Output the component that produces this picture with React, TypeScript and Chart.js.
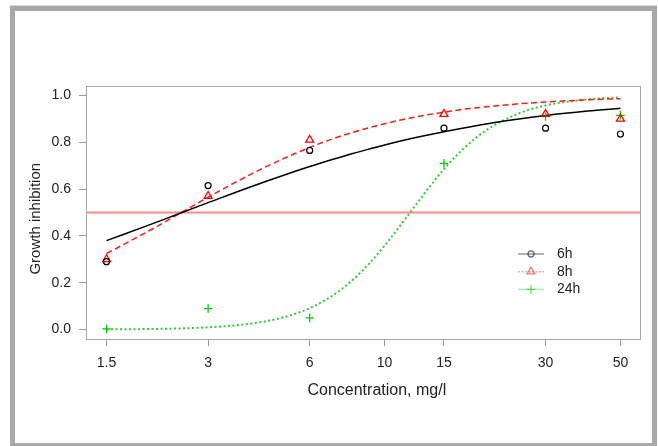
import { useEffect, useRef } from 'react';
import { Chart, registerables } from 'chart.js';

Chart.register(...registerables);

// ---- data ----
const concentrations = [1.5, 3, 6, 15, 30, 50];
const seriesLabels = ['6h', '8h', '24h'];
const observed6h = [0.29, 0.615, 0.765, 0.86, 0.86, 0.835];
const observed8h = [0.3, 0.57, 0.81, 0.92, 0.92, 0.9];
const observed24h = [0.003, 0.09, 0.05, 0.71, 0.91, 0.915];

const curveConcentrations = [1.5, 2, 2.5, 3, 4, 5, 6, 7, 8, 9, 10, 11, 12, 13, 15, 17, 20, 25, 30, 40, 50];
const fitted6h = [0.38, 0.446, 0.499, 0.542, 0.609, 0.658, 0.696, 0.726, 0.751, 0.771, 0.788, 0.803, 0.816, 0.827, 0.845, 0.86, 0.878, 0.899, 0.914, 0.933, 0.945];
const fitted8h = [0.325, 0.421, 0.5, 0.565, 0.662, 0.729, 0.778, 0.814, 0.841, 0.862, 0.879, 0.893, 0.904, 0.914, 0.928, 0.94, 0.951, 0.964, 0.972, 0.981, 0.986];
const fitted24h = [0.001, 0.0025, 0.0053, 0.0098, 0.0253, 0.0519, 0.0917, 0.1446, 0.209, 0.282, 0.358, 0.4346, 0.507, 0.5735, 0.685, 0.768, 0.851, 0.923, 0.957, 0.983, 0.992];

const referenceLevel = 0.5;
const xTickValues = [1.5, 3, 6, 10, 15, 30, 50];
const xTickLabels = ['1.5', '3', '6', '10', '15', '30', '50'];
const yTickValues = [0, 0.2, 0.4, 0.6, 0.8, 1.0];
const xRange = [1.304, 57.54];
const yRange = [-0.04, 1.04];
const xTitle = 'Concentration, mg/l';
const yTitle = 'Growth inhibition';

const FONT = "'Liberation Sans', Arial, Helvetica, sans-serif";
const TEXT = '#222222';
const AXIS = '#9a9a9a';

function toPoints(xs: number[], ys: number[]) {
  return xs.map((x, i) => ({ x, y: ys[i] }));
}

function drawMarker(ctx: CanvasRenderingContext2D, style: string, x: number, y: number, r: number) {
  ctx.beginPath();
  if (style === 'circle') {
    ctx.arc(x, y, r, 0, Math.PI * 2);
  } else if (style === 'triangle') {
    ctx.moveTo(x, y - r);
    ctx.lineTo(x + r * Math.sin((2 * Math.PI) / 3), y - r * Math.cos((2 * Math.PI) / 3));
    ctx.lineTo(x + r * Math.sin((4 * Math.PI) / 3), y - r * Math.cos((4 * Math.PI) / 3));
    ctx.closePath();
  } else {
    ctx.moveTo(x - r, y);
    ctx.lineTo(x + r, y);
    ctx.moveTo(x, y - r);
    ctx.lineTo(x, y + r);
  }
  ctx.stroke();
}

const plotBoxPlugin = {
  id: 'plotBox',
  afterDatasetsDraw(chart: any) {
    const { ctx, chartArea } = chart;
    ctx.save();
    ctx.strokeStyle = '#a8a8a8';
    ctx.lineWidth = 1;
    ctx.strokeRect(chartArea.left + 0.5, chartArea.top + 0.5, chartArea.right - chartArea.left - 1, chartArea.bottom - chartArea.top);
    ctx.restore();
  },
};

const refLinePlugin = {
  id: 'refLine',
  beforeDatasetsDraw(chart: any) {
    const { ctx, chartArea, scales } = chart;
    const y = scales.y.getPixelForValue(referenceLevel);
    ctx.save();
    ctx.strokeStyle = 'rgba(255, 60, 60, 0.6)';
    ctx.lineWidth = 2;
    ctx.beginPath();
    ctx.moveTo(chartArea.left, y);
    ctx.lineTo(chartArea.right, y);
    ctx.stroke();
    ctx.restore();
  },
};

const legendItems = [
  { lineColor: 'rgba(0,0,0,0.4)', dash: [] as number[], markerColor: 'rgba(0,0,0,0.55)', marker: 'circle', r: 3 },
  { lineColor: 'rgba(255,0,0,0.35)', dash: [2, 1.5], markerColor: 'rgba(255,0,0,0.55)', marker: 'triangle', r: 4.5 },
  { lineColor: 'rgba(0,200,0,0.3)', dash: [] as number[], markerColor: 'rgba(0,200,0,0.6)', marker: 'cross', r: 4.3 },
];

const legendPlugin = {
  id: 'seriesLegend',
  afterDraw(chart: any) {
    const ctx: CanvasRenderingContext2D = chart.ctx;
    const x0 = 518;
    const y0 = 254;
    const len = 26;
    const row = 17.7;
    seriesLabels.forEach((label, i) => {
      const it = legendItems[i];
      const y = y0 + i * row;
      ctx.save();
      ctx.strokeStyle = it.lineColor;
      ctx.lineWidth = 1.5;
      ctx.setLineDash(it.dash);
      ctx.beginPath();
      ctx.moveTo(x0, y);
      ctx.lineTo(x0 + len, y);
      ctx.stroke();
      ctx.setLineDash([]);
      ctx.strokeStyle = it.markerColor;
      ctx.lineWidth = 1.3;
      drawMarker(ctx, it.marker, x0 + len / 2, y, it.r);
      ctx.fillStyle = TEXT;
      ctx.font = `14px ${FONT}`;
      ctx.textBaseline = 'middle';
      ctx.textAlign = 'left';
      ctx.fillText(label, x0 + 39, y);
      ctx.restore();
    });
  },
};

export default function App() {
  const ref = useRef<HTMLCanvasElement>(null);

  useEffect(() => {
    const canvas = ref.current;
    if (!canvas) return;
    const chart = new Chart(canvas, {
      type: 'line',
      data: {
        datasets: [
          {
            label: seriesLabels[0] + ' observed',
            data: toPoints(concentrations, observed6h),
            showLine: false,
            pointStyle: 'circle',
            pointRadius: 3,
            pointBorderWidth: 1.2,
            pointBorderColor: '#000000',
            pointBackgroundColor: 'rgba(0,0,0,0)',
            borderColor: '#000000',
          },
          {
            label: seriesLabels[1] + ' observed',
            data: toPoints(concentrations, observed8h),
            showLine: false,
            pointStyle: 'triangle',
            pointRadius: 4.6,
            pointBorderWidth: 1.3,
            pointBorderColor: '#ff0000',
            pointBackgroundColor: 'rgba(0,0,0,0)',
            borderColor: '#ff0000',
          },
          {
            label: seriesLabels[2] + ' observed',
            data: toPoints(concentrations, observed24h),
            showLine: false,
            pointStyle: 'cross',
            pointRadius: 4.3,
            pointBorderWidth: 1.3,
            pointBorderColor: '#00cd00',
            borderColor: '#00cd00',
          },
          {
            label: seriesLabels[0] + ' fit',
            data: toPoints(curveConcentrations, fitted6h),
            borderColor: '#000000',
            borderWidth: 1.5,
            pointRadius: 0,
            cubicInterpolationMode: 'monotone',
            fill: false,
          },
          {
            label: seriesLabels[1] + ' fit',
            data: toPoints(curveConcentrations, fitted8h),
            borderColor: '#ff1a1a',
            borderWidth: 1.5,
            borderDash: [6, 3.5],
            pointRadius: 0,
            cubicInterpolationMode: 'monotone',
            fill: false,
          },
          {
            label: seriesLabels[2] + ' fit',
            data: toPoints(curveConcentrations, fitted24h),
            borderColor: '#33cc33',
            borderWidth: 2,
            borderDash: [2, 2.5],
            pointRadius: 0,
            cubicInterpolationMode: 'monotone',
            fill: false,
          },
        ],
      },
      options: {
        responsive: false,
        animation: false,
        devicePixelRatio: 1,
        layout: { padding: { left: 10, top: 86, right: 17, bottom: 0 } },
        plugins: {
          legend: { display: false },
          tooltip: { enabled: false },
        },
        scales: {
          x: {
            type: 'logarithmic',
            min: xRange[0],
            max: xRange[1],
            afterBuildTicks: (s: any) => {
              s.ticks = xTickValues.map((v) => ({ value: v }));
            },
            afterFit: (s: any) => {
              s.height = 107;
            },
            ticks: {
              autoSkip: false,
              maxRotation: 0,
              minRotation: 0,
              padding: 8.5,
              color: TEXT,
              font: { family: FONT, size: 14 },
              callback: (v: any) => {
                const i = xTickValues.indexOf(Number(v));
                return i >= 0 ? xTickLabels[i] : '';
              },
            },
            grid: { drawOnChartArea: false, drawTicks: true, tickLength: 7, color: AXIS, lineWidth: 1 },
            border: { display: false },
            title: {
              display: true,
              text: '      ' + xTitle,
              color: TEXT,
              font: { family: FONT, size: 16 },
              padding: { top: 0, bottom: 45.5 },
            },
          },
          y: {
            type: 'linear',
            min: yRange[0],
            max: yRange[1],
            afterBuildTicks: (s: any) => {
              s.ticks = yTickValues.map((v) => ({ value: v }));
            },
            afterFit: (s: any) => {
              s.width = 76;
            },
            ticks: {
              padding: 8,
              color: TEXT,
              font: { family: FONT, size: 14 },
              callback: (v: any) => Number(v).toFixed(1),
            },
            grid: { drawOnChartArea: false, drawTicks: true, tickLength: 7, color: AXIS, lineWidth: 1 },
            border: { display: false },
            title: {
              display: true,
              text: yTitle + '   ',
              color: TEXT,
              font: { family: FONT, size: 15 },
              padding: { top: 17, bottom: 0 },
            },
          },
        },
      } as any,
      plugins: [refLinePlugin, plotBoxPlugin, legendPlugin],
    });
    return () => chart.destroy();
  }, []);

  return (
    <div style={{ position: 'fixed', left: 0, top: 0, width: 658, height: 446, overflow: 'hidden', background: '#ffffff' }}>
      <div
        style={{
          position: 'absolute',
          left: 10,
          top: 6,
          width: 647,
          height: 442,
          border: '5px solid #a8a8a8',
          boxSizing: 'border-box',
          boxShadow: '0 -1px 0 #dadada',
        }}
      />
      <canvas ref={ref} width={658} height={446} style={{ position: 'absolute', left: 0, top: 0, width: 658, height: 446 }} />
    </div>
  );
}
